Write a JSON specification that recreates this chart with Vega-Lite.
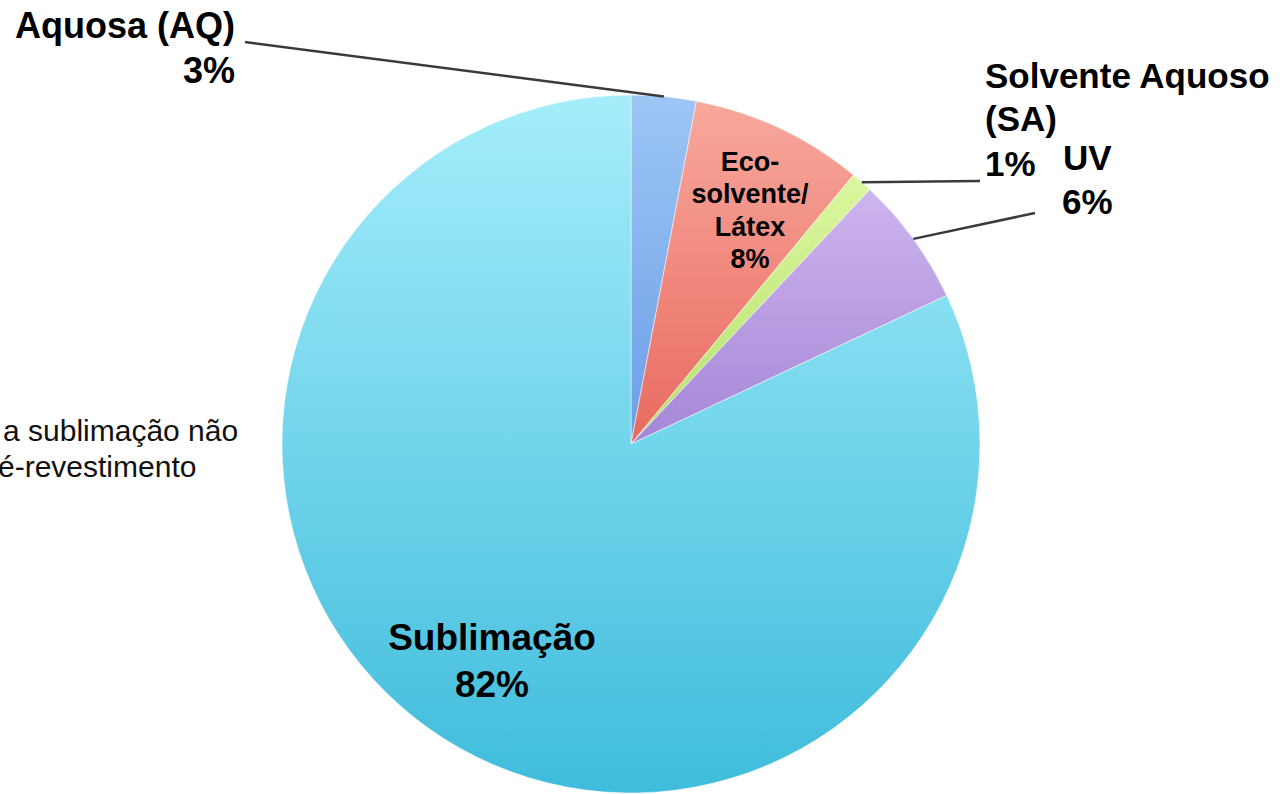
{
  "$schema": "https://vega.github.io/schema/vega-lite/v6.json",
  "width": 1262,
  "height": 700,
  "autosize": {"type": "none"},
  "padding": {"left": 0, "top": 94, "right": 21, "bottom": 0},
  "background": "#ffffff",
  "config": {"view": {"stroke": null}, "font": "Liberation Sans"},
  "datasets": {
    "fatias": [
      {"tipo": "Aquosa (AQ)", "pct": 3, "ordem": 1},
      {"tipo": "Eco-solvente/Látex", "pct": 8, "ordem": 2},
      {"tipo": "Solvente Aquoso (SA)", "pct": 1, "ordem": 3},
      {"tipo": "UV", "pct": 6, "ordem": 4},
      {"tipo": "Sublimação", "pct": 82, "ordem": 5}
    ],
    "guias": [
      {"x": -1.106, "y": 1.1519, "x2": 0.094, "y2": 0.9957},
      {"x": 0.6613, "y": 0.7501, "x2": 1.0, "y2": 0.7536},
      {"x": 0.809, "y": 0.5877, "x2": 1.1576, "y2": 0.6619}
    ],
    "rotulos": [
      {"grupo": "aq", "t": "Aquosa (AQ)", "x": -1.1347, "y": 1.1633},
      {"grupo": "aq", "t": "3%", "x": -1.1347, "y": 1.0344},
      {"grupo": "ext", "t": "Solvente Aquoso", "x": 1.0143, "y": 1.0201},
      {"grupo": "ext", "t": "(SA)", "x": 1.0143, "y": 0.8968},
      {"grupo": "ext", "t": "1%", "x": 1.0143, "y": 0.7679},
      {"grupo": "ext", "t": "UV", "x": 1.2378, "y": 0.7851},
      {"grupo": "ext", "t": "6%", "x": 1.235, "y": 0.659},
      {"grupo": "eco", "t": "Eco-", "x": 0.341, "y": 0.7822},
      {"grupo": "eco", "t": "solvente/", "x": 0.341, "y": 0.6905},
      {"grupo": "eco", "t": "Látex", "x": 0.341, "y": 0.596},
      {"grupo": "eco", "t": "8%", "x": 0.341, "y": 0.5043},
      {"grupo": "sub", "t": "Sublimação", "x": -0.3983, "y": -0.5903},
      {"grupo": "sub", "t": "82%", "x": -0.3983, "y": -0.7249},
      {"grupo": "nota", "t": "a sublimação não", "x": -1.7994, "y": 0.0086},
      {"grupo": "nota", "t": "é-revestimento", "x": -1.8138, "y": -0.0946}
    ]
  },
  "layer": [
    {
      "data": {"name": "fatias"},
      "mark": {"type": "arc", "outerRadius": 349, "stroke": "#ffffff", "strokeWidth": 1, "strokeOpacity": 0.5},
      "encoding": {
        "theta": {"field": "pct", "type": "quantitative", "stack": true},
        "order": {"field": "ordem", "type": "quantitative"},
        "fill": {
          "condition": [
            {"test": "datum.tipo === 'Sublimação'", "value": {"gradient": "linear", "x1": 0, "y1": 0, "x2": 0, "y2": 1, "stops": [{"offset": 0, "color": "#a5edfb"}, {"offset": 1, "color": "#3fbcdc"}]}},
            {"test": "datum.tipo === 'Aquosa (AQ)'", "value": {"gradient": "linear", "x1": 0, "y1": 0, "x2": 0, "y2": 1, "stops": [{"offset": 0, "color": "#9dc6f5"}, {"offset": 1, "color": "#6b9ee6"}]}},
            {"test": "datum.tipo === 'Eco-solvente/Látex'", "value": {"gradient": "linear", "x1": 0, "y1": 0, "x2": 0, "y2": 1, "stops": [{"offset": 0, "color": "#f8a89c"}, {"offset": 1, "color": "#e96a60"}]}},
            {"test": "datum.tipo === 'Solvente Aquoso (SA)'", "value": {"gradient": "linear", "x1": 0, "y1": 0, "x2": 0, "y2": 1, "stops": [{"offset": 0, "color": "#dcf7a0"}, {"offset": 1, "color": "#b5e06c"}]}},
            {"test": "datum.tipo === 'UV'", "value": {"gradient": "linear", "x1": 0, "y1": 0, "x2": 0, "y2": 1, "stops": [{"offset": 0, "color": "#cdb5ee"}, {"offset": 1, "color": "#a586d8"}]}}
          ],
          "value": "#70d5ec"
        }
      }
    },
    {
      "data": {"name": "guias"},
      "mark": {"type": "rule", "color": "#3a3a3a", "strokeWidth": 2.5},
      "encoding": {
        "x": {"field": "x", "type": "quantitative", "scale": {"domain": [-1.80802, 1.80802], "zero": false, "nice": false}, "axis": null},
        "y": {"field": "y", "type": "quantitative", "scale": {"domain": [-1.00287, 1.00287], "zero": false, "nice": false}, "axis": null},
        "x2": {"field": "x2"},
        "y2": {"field": "y2"}
      }
    },
    {
      "data": {"name": "rotulos"},
      "transform": [{"filter": "datum.grupo === 'aq'"}],
      "mark": {"type": "text", "align": "right", "baseline": "alphabetic", "fontSize": 36, "fontWeight": "bold", "color": "#000000"},
      "encoding": {
        "x": {"field": "x", "type": "quantitative", "axis": null},
        "y": {"field": "y", "type": "quantitative", "axis": null},
        "text": {"field": "t"}
      }
    },
    {
      "data": {"name": "rotulos"},
      "transform": [{"filter": "datum.grupo === 'ext'"}],
      "mark": {"type": "text", "align": "left", "baseline": "alphabetic", "fontSize": 35, "fontWeight": "bold", "color": "#000000"},
      "encoding": {
        "x": {"field": "x", "type": "quantitative", "axis": null},
        "y": {"field": "y", "type": "quantitative", "axis": null},
        "text": {"field": "t"}
      }
    },
    {
      "data": {"name": "rotulos"},
      "transform": [{"filter": "datum.grupo === 'eco'"}],
      "mark": {"type": "text", "align": "center", "baseline": "alphabetic", "fontSize": 27, "fontWeight": "bold", "color": "#000000"},
      "encoding": {
        "x": {"field": "x", "type": "quantitative", "axis": null},
        "y": {"field": "y", "type": "quantitative", "axis": null},
        "text": {"field": "t"}
      }
    },
    {
      "data": {"name": "rotulos"},
      "transform": [{"filter": "datum.grupo === 'sub'"}],
      "mark": {"type": "text", "align": "center", "baseline": "alphabetic", "fontSize": 37, "fontWeight": "bold", "color": "#000000"},
      "encoding": {
        "x": {"field": "x", "type": "quantitative", "axis": null},
        "y": {"field": "y", "type": "quantitative", "axis": null},
        "text": {"field": "t"}
      }
    },
    {
      "data": {"name": "rotulos"},
      "transform": [{"filter": "datum.grupo === 'nota'"}],
      "mark": {"type": "text", "align": "left", "baseline": "alphabetic", "fontSize": 30, "fontWeight": "normal", "color": "#111111"},
      "encoding": {
        "x": {"field": "x", "type": "quantitative", "axis": null},
        "y": {"field": "y", "type": "quantitative", "axis": null},
        "text": {"field": "t"}
      }
    }
  ]
}
